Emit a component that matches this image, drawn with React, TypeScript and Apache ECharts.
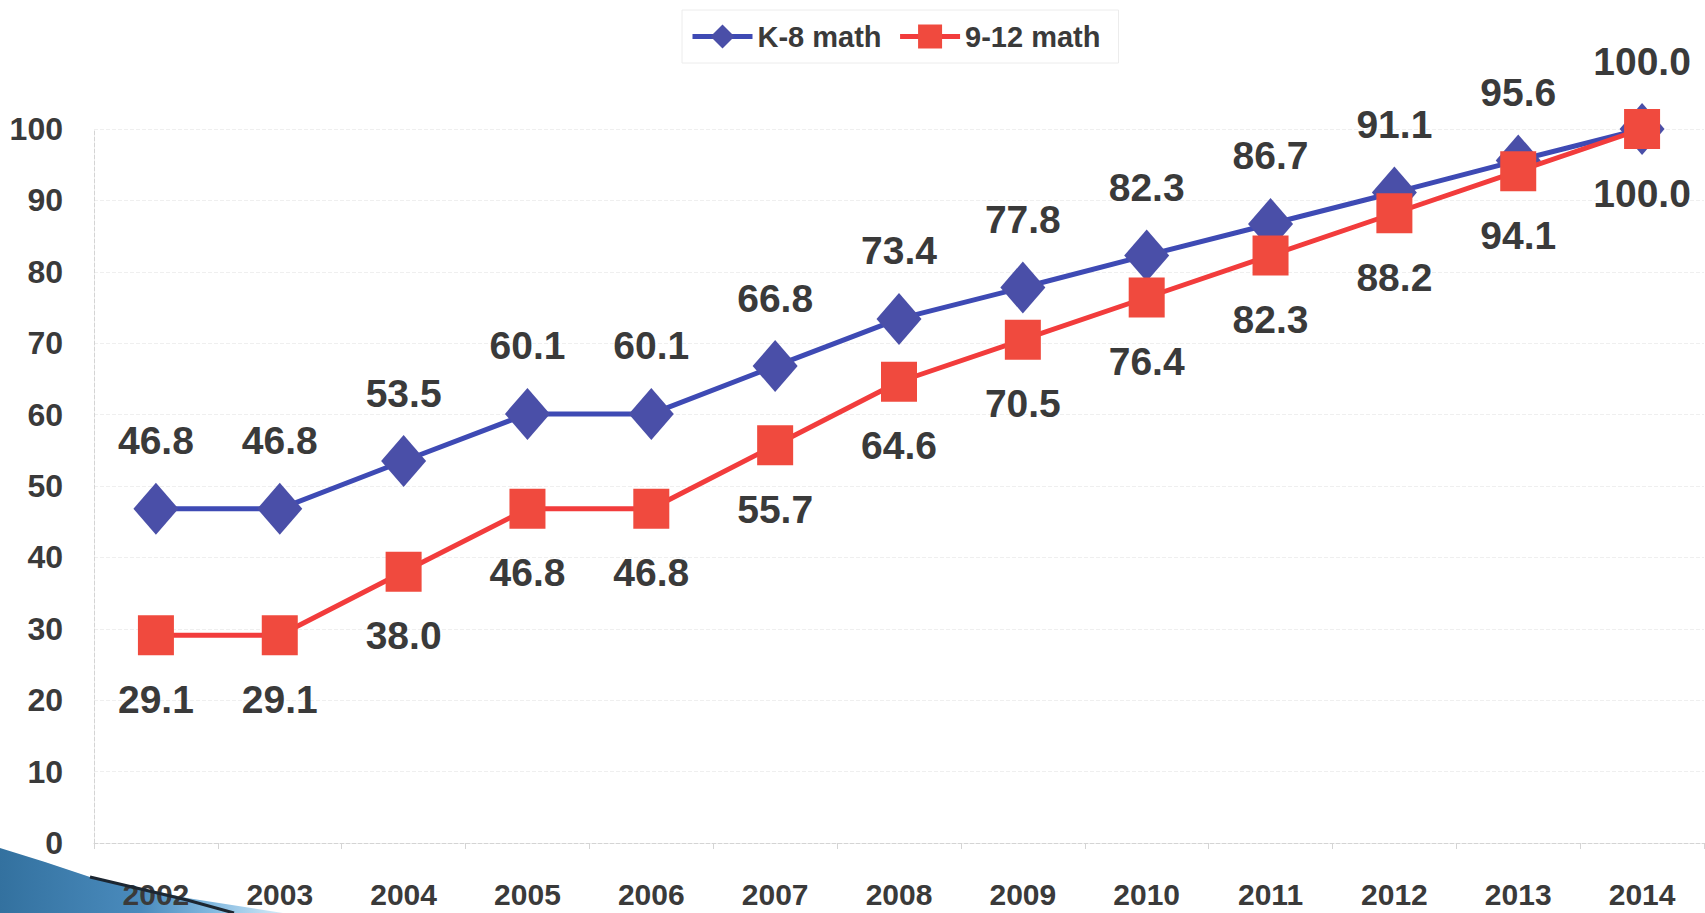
import React, { useEffect, useRef } from "react";
import * as echarts from "echarts";

const years = ["2002", "2003", "2004", "2005", "2006", "2007", "2008", "2009", "2010", "2011", "2012", "2013", "2014"];
const k8Math = [46.8, 46.8, 53.5, 60.1, 60.1, 66.8, 73.4, 77.8, 82.3, 86.7, 91.1, 95.6, 100.0];
const hsMath = [29.1, 29.1, 38.0, 46.8, 46.8, 55.7, 64.6, 70.5, 76.4, 82.3, 88.2, 94.1, 100.0];
const seriesNames = ["K-8 math", "9-12 math"];

const FONT = '"Liberation Sans", Arial, sans-serif';
const TEXT = "#3a3a3a";

export default function App() {
  const ref = useRef<HTMLDivElement>(null);
  useEffect(() => {
    if (!ref.current) return;
    const chart = echarts.init(ref.current, null, { renderer: "svg" });
    const labelBase = {
      show: true,
      position: "inside",
      fontSize: 39,
      fontWeight: "bold",
      fontFamily: FONT,
      color: TEXT,
      formatter: (p: any) => Number(p.value).toFixed(1),
    };
    chart.setOption({
      animation: false,
      backgroundColor: "#ffffff",
      textStyle: { fontFamily: FONT },
      legend: {
        left: 682,
        top: 10,
        padding: [12, 18, 12, 8],
        itemWidth: 60,
        itemHeight: 30,
        itemGap: 16,
        borderColor: "#ececec",
        borderWidth: 1,
        lineStyle: { width: 5 },
        textStyle: { fontSize: 29, fontWeight: "bold", color: TEXT, fontFamily: FONT },
        data: seriesNames,
      },
      grid: { left: 94, top: 129, width: 1610, height: 714, outerBoundsMode: "none", containLabel: false },
      xAxis: {
        type: "category",
        data: years,
        boundaryGap: true,
        axisLine: { show: true, lineStyle: { color: "#d4d4d4", type: "dashed", width: 1 } },
        axisTick: { show: true, alignWithLabel: false, length: 6, lineStyle: { color: "#d4d4d4" } },
        axisLabel: { fontSize: 30, fontWeight: "bold", color: TEXT, fontFamily: FONT, margin: 36 },
        splitLine: { show: false },
      },
      yAxis: {
        type: "value",
        min: 0,
        max: 100,
        interval: 10,
        axisLine: { show: true, lineStyle: { color: "#d4d4d4", type: "dashed", width: 1 } },
        axisTick: { show: false },
        axisLabel: { fontSize: 32, fontWeight: "bold", color: TEXT, fontFamily: FONT, margin: 31 },
        splitLine: { show: true, lineStyle: { color: "#efefef", type: "dashed", width: 1 } },
      },
      graphic: [
        {
          type: "polygon",
          z: 0,
          shape: {
            points: [
              [0, 848],
              [45, 862],
              [90, 877],
              [187, 898],
              [283, 913],
              [0, 913],
            ],
          },
          style: {
            fill: new echarts.graphic.LinearGradient(0, 0, 1, 0, [
              { offset: 0, color: "#33719f" },
              { offset: 0.5, color: "#4a8bbd" },
              { offset: 0.75, color: "#82b9e0" },
              { offset: 1, color: "#d5ebf8" },
            ]),
          },
        },
        {
          type: "polyline",
          z: 1,
          shape: { points: [[90, 877], [187, 900], [234, 913]] },
          style: { stroke: "#1c2631", lineWidth: 3, fill: null },
        },
      ],
      series: [
        {
          name: seriesNames[0],
          type: "line",
          data: k8Math,
          symbol: "diamond",
          symbolSize: [45, 52],
          itemStyle: { color: "#4a4fa8" },
          lineStyle: { color: "#3e4ab4", width: 5 },
          label: { ...labelBase, offset: [0, -68] },
          z: 3,
        },
        {
          name: seriesNames[1],
          type: "line",
          data: hsMath,
          symbol: "rect",
          symbolSize: [36, 40],
          itemStyle: { color: "#f04a3e" },
          lineStyle: { color: "#f23c3c", width: 5 },
          label: { ...labelBase, offset: [0, 64] },
          z: 4,
        },
      ],
    });
    return () => chart.dispose();
  }, []);
  return (
    <div
      ref={ref}
      style={{ position: "fixed", left: 0, top: 0, width: "1705px", height: "913px" }}
    />
  );
}
